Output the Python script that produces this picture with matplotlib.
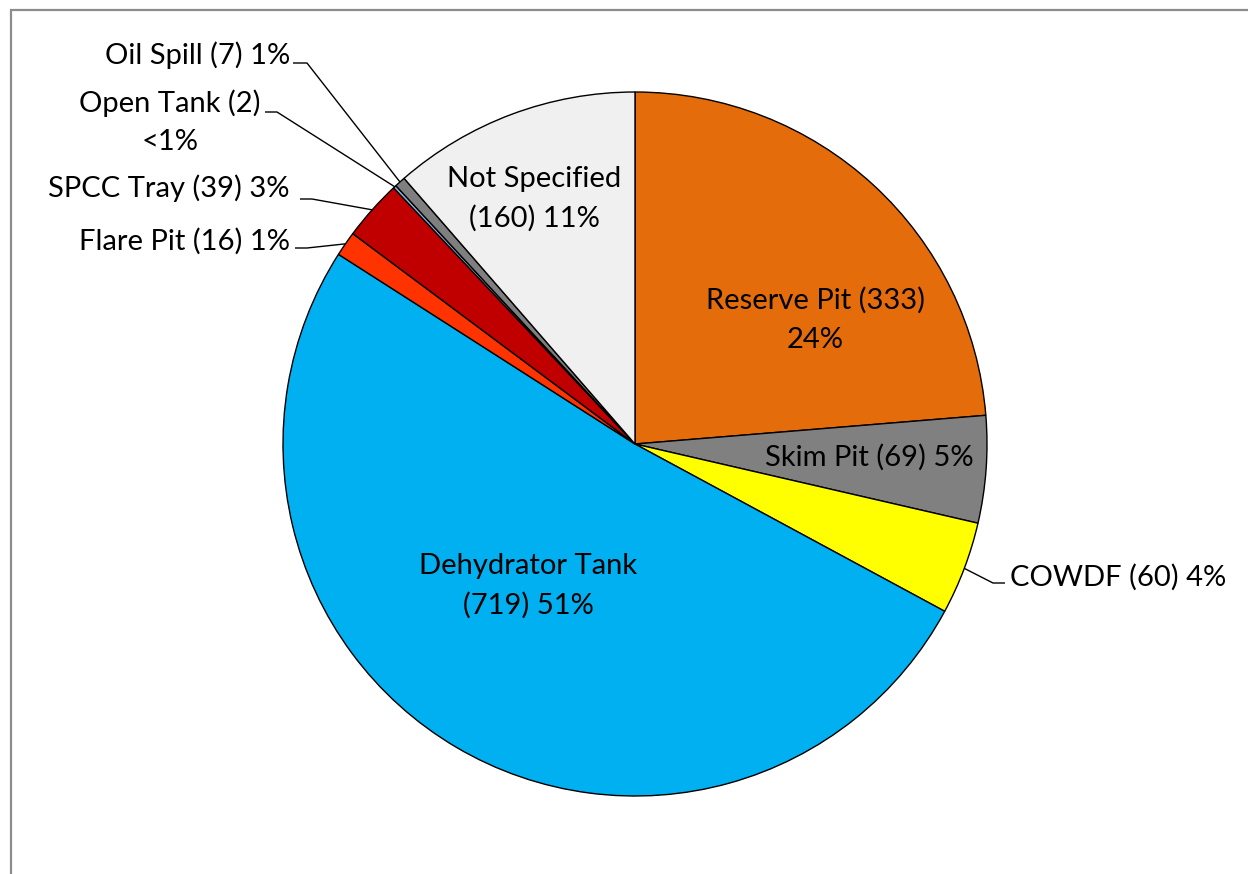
import matplotlib
matplotlib.use("Agg")
import matplotlib.pyplot as plt
import numpy as np

# Waste sources, clockwise from 12 o'clock
categories = ["Reserve Pit", "Skim Pit", "COWDF", "Dehydrator Tank", "Flare Pit",
              "SPCC Tray", "Open Tank", "Oil Spill", "Not Specified"]
counts = [333, 69, 60, 719, 16, 39, 2, 7, 160]
pct_labels = ["24%", "5%", "4%", "51%", "1%", "3%", "<1%", "1%", "11%"]
colors = ["#E46C0A", "#808080", "#FFFF00", "#00B0F0", "#FF3300",
          "#C00000", "#8EB4E3", "#7F7F7F", "#F0F0F0"]

W, H = 1248, 874
plt.rcParams["font.family"] = ["Lato", "DejaVu Sans"]
FS = 21
LS = 1.6

fig = plt.figure(figsize=(W / 100, H / 100), dpi=100)
ax = fig.add_axes([0, 0, 1, 1])
ax.set_xlim(0, W)
ax.set_ylim(H, 0)
ax.axis("off")

# chart frame (only top and left edges fall inside the canvas)
ax.plot([10.5, 10.5, W + 5], [H + 5, 9.5, 9.5], color="#8C8C8C", lw=1.6,
        solid_joinstyle="miter", clip_on=False)

center = (635, 444)
radius = 352
wedges, _ = ax.pie(counts, colors=colors, startangle=-90, counterclock=True,
                   center=center, radius=radius,
                   wedgeprops=dict(edgecolor="black", linewidth=1.0))
ax.set_xlim(0, W)
ax.set_ylim(H, 0)


def label_text(i, brk):
    name, cnt, pct = categories[i], counts[i], pct_labels[i]
    if brk == "name":
        return f"{name}\n({cnt}) {pct}"
    if brk == "count":
        return f"{name} ({cnt})\n{pct}"
    return f"{name} ({cnt}) {pct}"


# labels inside the slices: (index, line break, x, y)
inside = [(0, "count", 815, 320), (1, None, 869, 457),
          (3, "name", 528, 586), (8, "name", 534, 199)]
for i, brk, x, y in inside:
    ax.text(x, y, label_text(i, brk), ha="center", va="center", fontsize=FS,
            linespacing=LS, color="black")

# labels outside with leader lines: (index, line break, text x, text y, ha, elbow start, elbow end)
outside = [
    (7, None, 290, 55, "right", (293, 63), (307, 63)),
    (6, "count", 170, 122, "center", (265, 112), (277, 112)),
    (5, None, 290, 188, "right", (300, 199), (312, 199)),
    (4, None, 290, 241, "right", (295, 248), (307, 248)),
    (2, None, 1010, 577, "left", (1005, 583), (993, 583)),
]
for i, brk, x, y, ha, p0, p1 in outside:
    w = wedges[i]
    mid = np.deg2rad((w.theta1 + w.theta2) / 2)
    ex = center[0] + radius * np.cos(mid)
    ey = center[1] + radius * np.sin(mid)
    ax.plot([p0[0], p1[0], ex], [p0[1], p1[1], ey], color="black", lw=1.0,
            solid_capstyle="butt")
    ax.text(x, y, label_text(i, brk), ha=ha, va="center", fontsize=FS,
            linespacing=LS, multialignment="center", color="black")

fig.savefig("out.png", dpi=100)
